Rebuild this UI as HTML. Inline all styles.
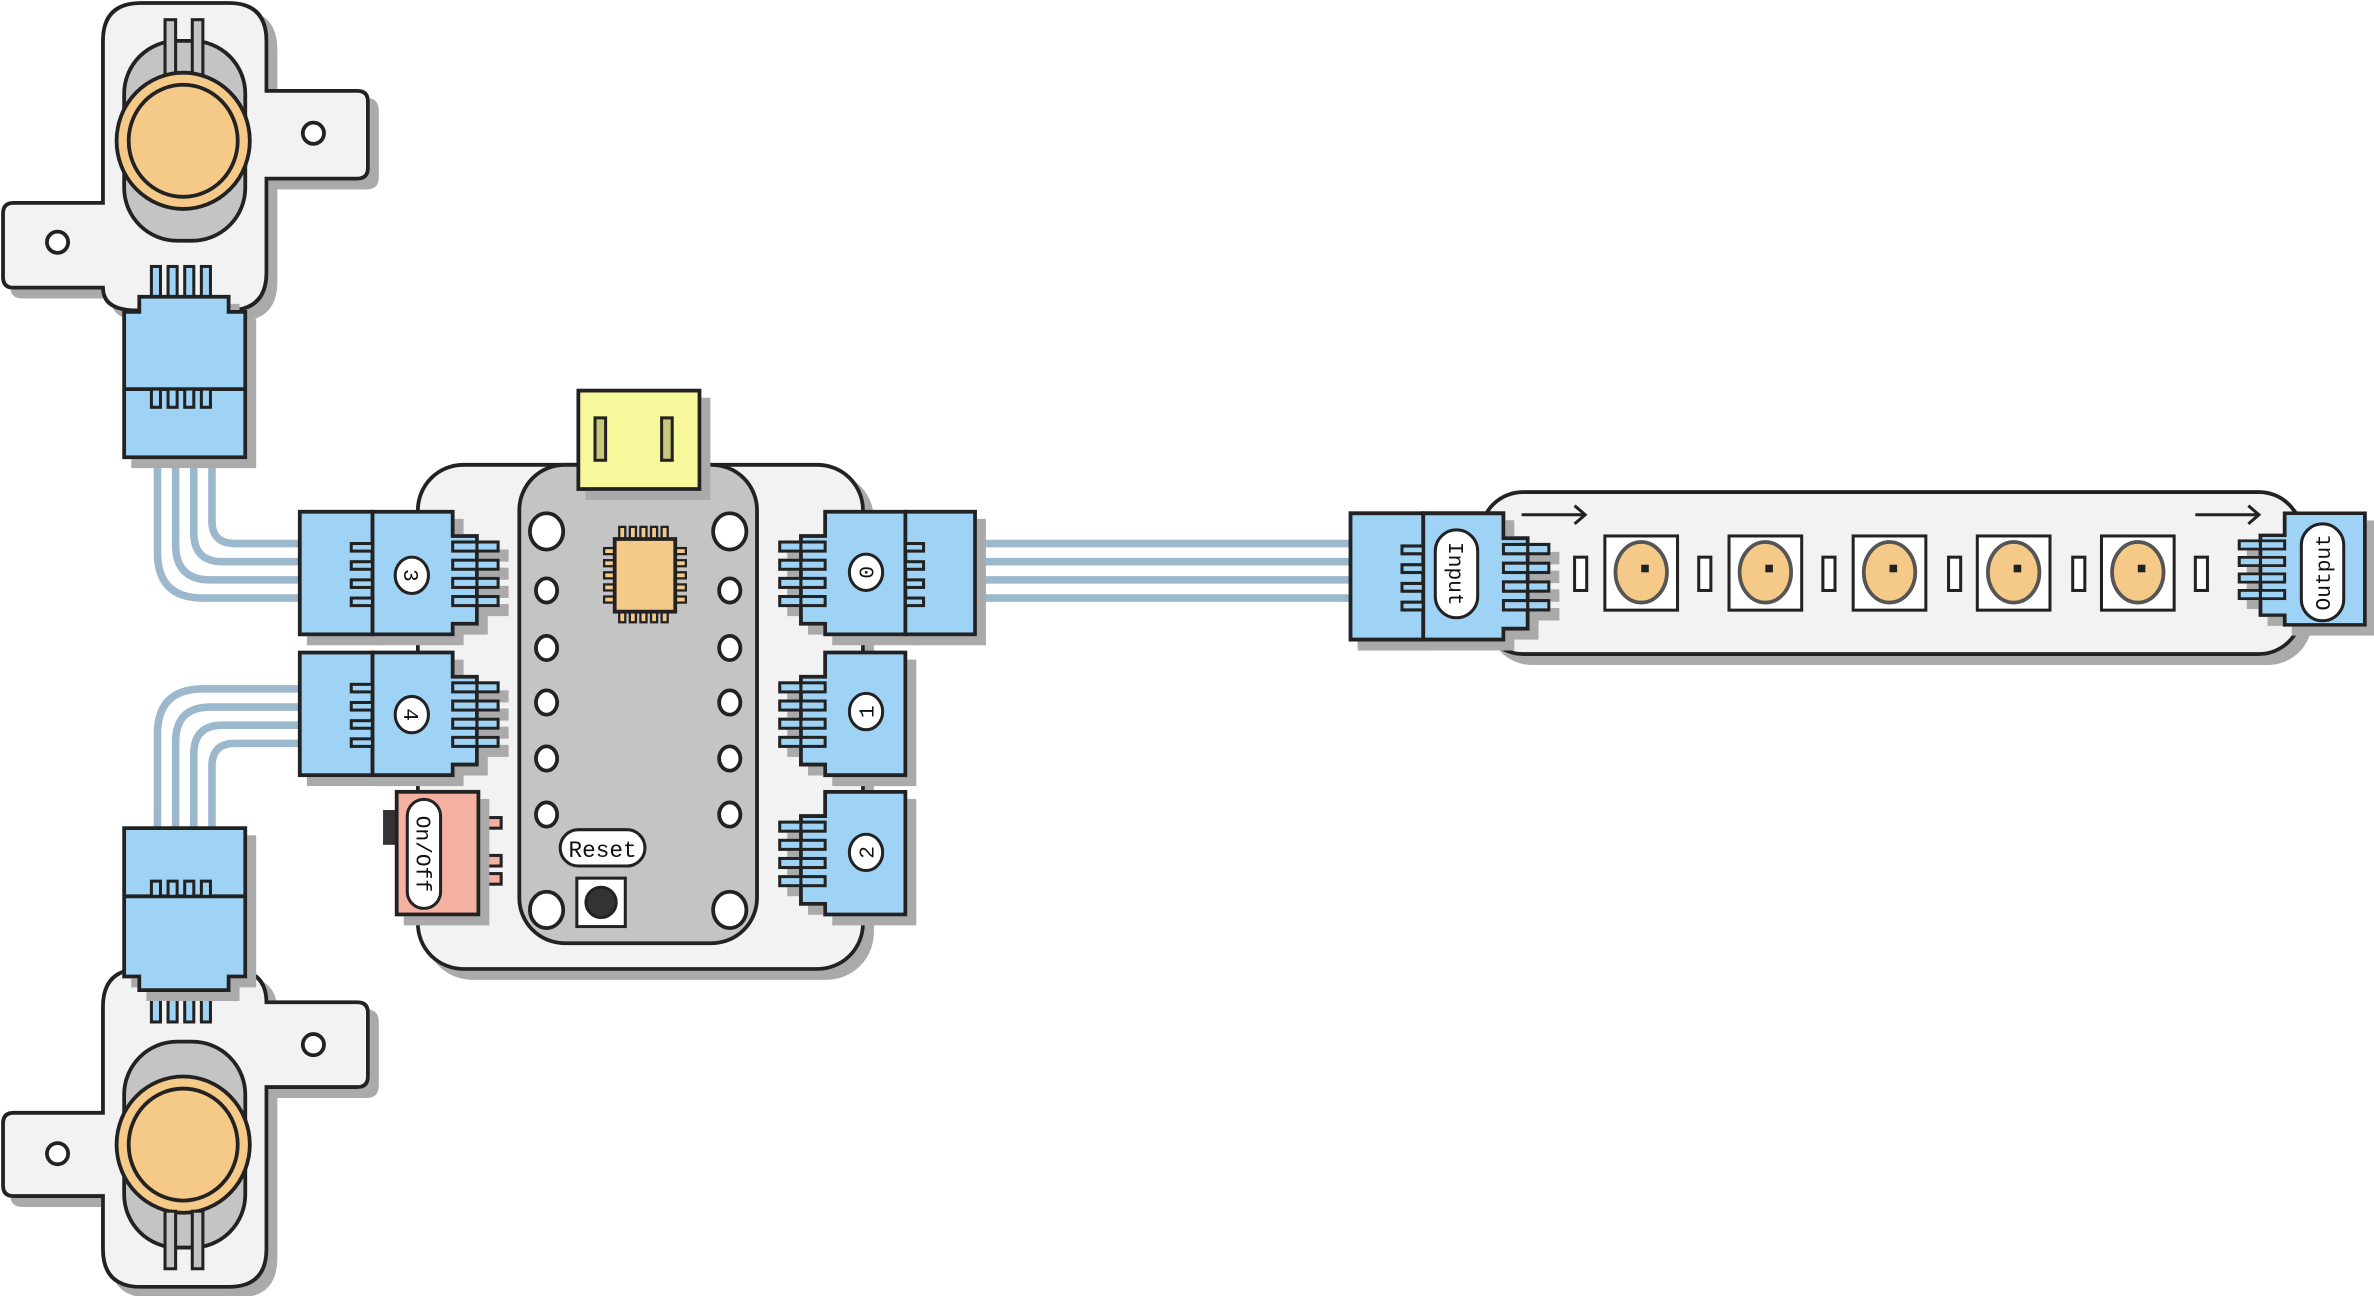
<!DOCTYPE html>
<html><head><meta charset="utf-8"><style>
html,body{margin:0;padding:0;background:#fff;}
svg{display:block;}
text{font-family:"Liberation Mono",monospace;fill:#111;}
</style></head><body>
<svg width="2374" height="1296" viewBox="0 0 1568 856" preserveAspectRatio="none" xmlns="http://www.w3.org/2000/svg">
<defs>
<filter id="sh" x="-10%" y="-10%" width="130%" height="130%">
<feFlood flood-color="#aaaaaa" result="f"/>
<feComposite in="f" in2="SourceAlpha" operator="in" result="s"/>
<feOffset in="s" dx="6" dy="6" result="o"/>
<feMerge><feMergeNode in="o"/><feMergeNode in="SourceGraphic"/></feMerge>
</filter>
<g id="socket">
<path d="M0,0 H53 V16 H69 V74 H53 V81 H0 Z" fill="#9fd3f5" stroke="#222" stroke-width="2.5"/>
<rect x="69" y="20" width="14" height="6" fill="#9fd3f5" stroke="#222" stroke-width="2"/>
<rect x="69" y="32" width="14" height="6" fill="#9fd3f5" stroke="#222" stroke-width="2"/>
<rect x="69" y="44" width="14" height="6" fill="#9fd3f5" stroke="#222" stroke-width="2"/>
<rect x="69" y="56" width="14" height="6" fill="#9fd3f5" stroke="#222" stroke-width="2"/>
<rect x="53" y="20" width="16" height="6" fill="#9fd3f5" stroke="#222" stroke-width="2"/>
<rect x="53" y="32" width="16" height="6" fill="#9fd3f5" stroke="#222" stroke-width="2"/>
<rect x="53" y="44" width="16" height="6" fill="#9fd3f5" stroke="#222" stroke-width="2"/>
<rect x="53" y="56" width="16" height="6" fill="#9fd3f5" stroke="#222" stroke-width="2"/>
</g>
<g id="plug">
<rect x="-48" y="0" width="48" height="81" fill="#9fd3f5" stroke="#222" stroke-width="2.5"/>
<rect x="-14" y="21" width="14" height="5" fill="#9fd3f5" stroke="#222" stroke-width="2"/>
<rect x="-14" y="33" width="14" height="5" fill="#9fd3f5" stroke="#222" stroke-width="2"/>
<rect x="-14" y="45" width="14" height="5" fill="#9fd3f5" stroke="#222" stroke-width="2"/>
<rect x="-14" y="57" width="14" height="5" fill="#9fd3f5" stroke="#222" stroke-width="2"/>
</g>
</defs>

<!-- wires -->
<g fill="none" stroke="#9bb8cc" stroke-width="5">
<path d="M104,300 V365 Q104,395 134,395 H200"/>
<path d="M116,300 V360 Q116,383 139,383 H200"/>
<path d="M128,300 V352 Q128,371 147,371 H200"/>
<path d="M140,300 V344 Q140,359 155,359 H200"/>
<path d="M104,552 V485 Q104,455 134,455 H200"/>
<path d="M116,552 V490 Q116,467 139,467 H200"/>
<path d="M128,552 V498 Q128,479 147,479 H200"/>
<path d="M140,552 V506 Q140,491 155,491 H200"/>
<path d="M640,359 H896"/><path d="M640,371 H896"/><path d="M640,383 H896"/><path d="M640,395 H896"/>
</g>

<!-- top sensor -->
<g filter="url(#sh)">
<path d="M93,2 H151 Q176,2 176,27 V60 H236 Q243,60 243,67 V111 Q243,118 236,118 H176 V180 Q176,205 151,205 H90 Q68,205 68,190 H9 Q2,190 2,183 V141 Q2,134 9,134 H68 V27 Q68,2 93,2 Z" fill="#f2f2f2" stroke="#222" stroke-width="2.5"/>
</g>
<circle cx="207" cy="88" r="7" fill="#fff" stroke="#222" stroke-width="2.5"/>
<circle cx="38" cy="160" r="7" fill="#fff" stroke="#222" stroke-width="2.5"/>
<rect x="82" y="27" width="80" height="132" rx="35" fill="#c4c4c4" stroke="#222" stroke-width="2.5"/>
<rect x="109" y="13" width="7" height="40" fill="#c4c4c4" stroke="#222" stroke-width="2"/>
<rect x="127" y="13" width="7" height="40" fill="#c4c4c4" stroke="#222" stroke-width="2"/>
<ellipse cx="121" cy="93" rx="44" ry="45" fill="#f5c987" stroke="#222" stroke-width="2.5"/>
<ellipse cx="121" cy="93" rx="36" ry="37" fill="none" stroke="#222" stroke-width="2.5"/>
<g fill="#9fd3f5" stroke="#222" stroke-width="2">
<rect x="100" y="176" width="6" height="30"/><rect x="111" y="176" width="6" height="30"/><rect x="122" y="176" width="6" height="30"/><rect x="133" y="176" width="6" height="30"/>
</g>
<g filter="url(#sh)">
<path d="M82,206 H92 V196 H151 V206 H162 V302 H82 Z" fill="#9fd3f5" stroke="#222" stroke-width="2.5"/>
</g>
<line x1="82" y1="257" x2="162" y2="257" stroke="#222" stroke-width="2.5"/>
<g fill="#9fd3f5" stroke="#222" stroke-width="2">
<rect x="100" y="257" width="6" height="12"/><rect x="111" y="257" width="6" height="12"/><rect x="122" y="257" width="6" height="12"/><rect x="133" y="257" width="6" height="12"/>
</g>

<!-- bottom sensor -->
<g filter="url(#sh)">
<path d="M93,640 H151 Q176,640 176,662 H236 Q243,662 243,669 V711 Q243,718 236,718 H176 V825 Q176,850 151,850 H93 Q68,850 68,825 V790 H9 Q2,790 2,783 V742 Q2,735 9,735 H68 V665 Q68,640 93,640 Z" fill="#f2f2f2" stroke="#222" stroke-width="2.5"/>
</g>
<circle cx="207" cy="690" r="7" fill="#fff" stroke="#222" stroke-width="2.5"/>
<circle cx="38" cy="762" r="7" fill="#fff" stroke="#222" stroke-width="2.5"/>
<rect x="82" y="688" width="80" height="136" rx="35" fill="#c4c4c4" stroke="#222" stroke-width="2.5"/>
<ellipse cx="121" cy="756" rx="44" ry="45" fill="#f5c987" stroke="#222" stroke-width="2.5"/>
<ellipse cx="121" cy="756" rx="36" ry="37" fill="none" stroke="#222" stroke-width="2.5"/>
<rect x="109" y="800" width="7" height="38" fill="#c4c4c4" stroke="#222" stroke-width="2"/>
<rect x="127" y="800" width="7" height="38" fill="#c4c4c4" stroke="#222" stroke-width="2"/>
<g fill="#9fd3f5" stroke="#222" stroke-width="2">
<rect x="100" y="645" width="6" height="30"/><rect x="111" y="645" width="6" height="30"/><rect x="122" y="645" width="6" height="30"/><rect x="133" y="645" width="6" height="30"/>
</g>
<g filter="url(#sh)">
<path d="M82,547 H162 V645 H151 V654 H92 V645 H82 Z" fill="#9fd3f5" stroke="#222" stroke-width="2.5"/>
</g>
<line x1="82" y1="592" x2="162" y2="592" stroke="#222" stroke-width="2.5"/>
<g fill="#9fd3f5" stroke="#222" stroke-width="2">
<rect x="100" y="582" width="6" height="10"/><rect x="111" y="582" width="6" height="10"/><rect x="122" y="582" width="6" height="10"/><rect x="133" y="582" width="6" height="10"/>
</g>

<!-- main board -->
<g filter="url(#sh)">
<rect x="276" y="307" width="294" height="333" rx="30" fill="#f2f2f2" stroke="#222" stroke-width="2.5"/>
</g>
<rect x="343" y="307" width="157" height="316" rx="30" fill="#c4c4c4" stroke="#222" stroke-width="2.5"/>
<g filter="url(#sh)">
<rect x="382" y="258" width="80" height="65" fill="#f7f79b" stroke="#222" stroke-width="2.5"/>
</g>
<rect x="393" y="276" width="7" height="28" fill="#c8c87a" stroke="#222" stroke-width="2"/>
<rect x="437" y="276" width="7" height="28" fill="#c8c87a" stroke="#222" stroke-width="2"/>
<!-- chip -->
<g fill="#f5c987" stroke="#222" stroke-width="1.5">
<rect x="409" y="348" width="4" height="8"/><rect x="416" y="348" width="4" height="8"/><rect x="423" y="348" width="4" height="8"/><rect x="430" y="348" width="4" height="8"/><rect x="437" y="348" width="4" height="8"/>
<rect x="409" y="403" width="4" height="8"/><rect x="416" y="403" width="4" height="8"/><rect x="423" y="403" width="4" height="8"/><rect x="430" y="403" width="4" height="8"/><rect x="437" y="403" width="4" height="8"/>
<rect x="399" y="362" width="8" height="4"/><rect x="399" y="370" width="8" height="4"/><rect x="399" y="378" width="8" height="4"/><rect x="399" y="386" width="8" height="4"/><rect x="399" y="394" width="8" height="4"/>
<rect x="445" y="362" width="8" height="4"/><rect x="445" y="370" width="8" height="4"/><rect x="445" y="378" width="8" height="4"/><rect x="445" y="386" width="8" height="4"/><rect x="445" y="394" width="8" height="4"/>
</g>
<rect x="406" y="356" width="40" height="48" fill="#f5c987" stroke="#222" stroke-width="2.5"/>
<!-- holes -->
<g fill="#fff" stroke="#222" stroke-width="2.5">
<ellipse cx="361" cy="351" rx="11" ry="12"/><ellipse cx="482" cy="351" rx="11" ry="12"/>
<ellipse cx="361" cy="390" rx="7" ry="8"/><ellipse cx="482" cy="390" rx="7" ry="8"/>
<ellipse cx="361" cy="428" rx="7" ry="8"/><ellipse cx="482" cy="428" rx="7" ry="8"/>
<ellipse cx="361" cy="464" rx="7" ry="8"/><ellipse cx="482" cy="464" rx="7" ry="8"/>
<ellipse cx="361" cy="501" rx="7" ry="8"/><ellipse cx="482" cy="501" rx="7" ry="8"/>
<ellipse cx="361" cy="538" rx="7" ry="8"/><ellipse cx="482" cy="538" rx="7" ry="8"/>
<ellipse cx="361" cy="601" rx="11" ry="12"/><ellipse cx="482" cy="601" rx="11" ry="12"/>
</g>
<rect x="370" y="548" width="56" height="24" rx="12" fill="#fff" stroke="#222" stroke-width="2"/>
<text x="398" y="566" font-size="15" text-anchor="middle">Reset</text>
<rect x="381" y="580" width="32" height="32" fill="#fff" stroke="#222" stroke-width="2"/>
<circle cx="397" cy="596" r="10" fill="#333" stroke="#222" stroke-width="2"/>

<!-- on/off -->
<rect x="253" y="535" width="10" height="23" fill="#333"/>
<g fill="#f4b0a0" stroke="#222" stroke-width="2">
<rect x="314" y="540" width="17" height="7"/><rect x="314" y="565" width="17" height="7"/><rect x="314" y="577" width="17" height="7"/>
</g>
<g filter="url(#sh)"><rect x="262" y="523" width="54" height="81" fill="#f4b0a0" stroke="#222" stroke-width="2.5"/></g>
<rect x="269" y="528" width="22" height="72" rx="11" fill="#fff" stroke="#222" stroke-width="2"/>
<text transform="translate(275,564) rotate(90)" font-size="14" text-anchor="middle">On/Off</text>

<!-- left connectors -->
<g filter="url(#sh)"><g transform="translate(246,338)"><use href="#socket"/><use href="#plug"/></g></g>
<g filter="url(#sh)"><g transform="translate(246,431)"><use href="#socket"/><use href="#plug"/></g></g>
<!-- right connectors -->
<g filter="url(#sh)"><g transform="translate(598,338) scale(-1,1)"><use href="#socket"/></g>
<rect x="598" y="338" width="46" height="81" fill="#9fd3f5" stroke="#222" stroke-width="2.5"/></g>
<g fill="#9fd3f5" stroke="#222" stroke-width="2">
<rect x="598" y="359" width="12" height="5"/><rect x="598" y="371" width="12" height="5"/><rect x="598" y="383" width="12" height="5"/><rect x="598" y="395" width="12" height="5"/>
</g>
<g filter="url(#sh)"><g transform="translate(598,431) scale(-1,1)"><use href="#socket"/></g></g>
<g filter="url(#sh)"><g transform="translate(598,523) scale(-1,1)"><use href="#socket"/></g></g>

<!-- connector labels -->
<g fill="#fff" stroke="#222" stroke-width="2">
<ellipse cx="272" cy="380" rx="11" ry="12"/><ellipse cx="272" cy="472" rx="11" ry="12"/>
<ellipse cx="572" cy="378" rx="11" ry="12"/><ellipse cx="572" cy="470" rx="11" ry="12"/><ellipse cx="572" cy="563" rx="11" ry="12"/>
</g>
<text transform="translate(267,380) rotate(90)" font-size="14" text-anchor="middle">3</text>
<text transform="translate(267,472) rotate(90)" font-size="14" text-anchor="middle">4</text>
<text transform="translate(577,378) rotate(-90)" font-size="14" text-anchor="middle">0</text>
<text transform="translate(577,470) rotate(-90)" font-size="14" text-anchor="middle">1</text>
<text transform="translate(577,563) rotate(-90)" font-size="14" text-anchor="middle">2</text>

<!-- strip -->
<g filter="url(#sh)">
<rect x="978" y="325" width="542" height="107" rx="28" fill="#f2f2f2" stroke="#222" stroke-width="2.5"/>
</g>
<g stroke="#222" stroke-width="2" fill="none">
<path d="M1005,340 H1046 M1040,334 L1047,340 L1040,346"/>
<path d="M1450,340 H1491 M1485,334 L1492,340 L1485,346"/>
</g>
<g fill="#fff" stroke="#222" stroke-width="2">
<rect x="1040" y="368" width="8" height="22"/><rect x="1122" y="368" width="8" height="22"/><rect x="1204" y="368" width="8" height="22"/><rect x="1287" y="368" width="8" height="22"/><rect x="1369" y="368" width="8" height="22"/><rect x="1450" y="368" width="8" height="22"/>
</g>
<g stroke="#222" stroke-width="2">
<rect x="1060" y="354" width="48" height="49" fill="#fff"/><rect x="1142" y="354" width="48" height="49" fill="#fff"/><rect x="1224" y="354" width="48" height="49" fill="#fff"/><rect x="1306" y="354" width="48" height="49" fill="#fff"/><rect x="1388" y="354" width="48" height="49" fill="#fff"/>
</g>
<g fill="#f5c987" stroke="#555" stroke-width="2.5">
<ellipse cx="1084" cy="378" rx="17" ry="20"/><ellipse cx="1166" cy="378" rx="17" ry="20"/><ellipse cx="1248" cy="378" rx="17" ry="20"/><ellipse cx="1330" cy="378" rx="17" ry="20"/><ellipse cx="1412" cy="378" rx="17" ry="20"/>
</g>
<g fill="#222">
<rect x="1084" y="373" width="5" height="5"/><rect x="1166" y="373" width="5" height="5"/><rect x="1248" y="373" width="5" height="5"/><rect x="1330" y="373" width="5" height="5"/><rect x="1412" y="373" width="5" height="5"/>
</g>
<!-- input connector -->
<g filter="url(#sh)"><g transform="translate(940,339) scale(1,1.03)"><use href="#socket"/><use href="#plug"/></g></g>
<rect x="948" y="350" width="28" height="58" rx="14" fill="#fff" stroke="#222" stroke-width="2"/>
<text transform="translate(957,379) rotate(90)" font-size="14" text-anchor="middle">Input</text>
<!-- output connector -->
<g filter="url(#sh)"><g transform="translate(1562,339) scale(-1,0.91)"><use href="#socket"/></g></g>
<rect x="1520" y="346" width="28" height="64" rx="14" fill="#fff" stroke="#222" stroke-width="2"/>
<text transform="translate(1539,378) rotate(-90)" font-size="14" text-anchor="middle">Output</text>
</svg>
</body></html>
